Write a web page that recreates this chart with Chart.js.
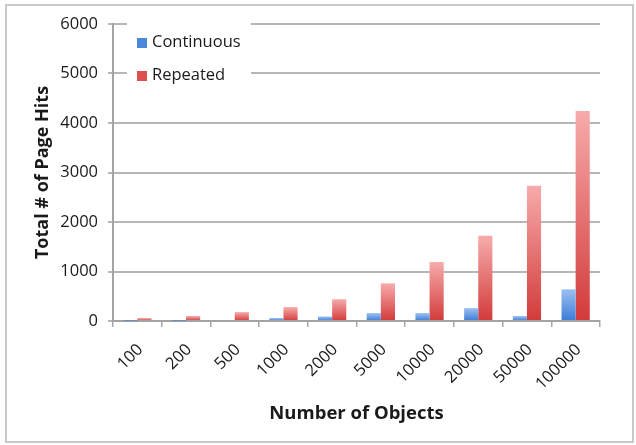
<!DOCTYPE html>
<html>
<head>
<meta charset="utf-8">
<script src="https://cdn.jsdelivr.net/npm/chart.js@4"></script>
<style>
  html, body { margin: 0; padding: 0; background: #fff; }
  #wrap { width: 636px; height: 445px; position: relative; }
</style>
</head>
<body>
<div id="wrap"><canvas id="c" width="636" height="445"></canvas></div>
<script>
// Number of objects per run
const categories = ['100', '200', '500', '1000', '2000', '5000', '10000', '20000', '50000', '100000'];
// Total page hits per access pattern
const continuous = [10, 10, 20, 60, 90, 160, 160, 260, 100, 640];
const repeated = [60, 100, 180, 280, 440, 760, 1190, 1720, 2730, 4240];
// Value axis ticks
const yTicks = [0, 1000, 2000, 3000, 4000, 5000, 6000];

const seriesNames = ['Continuous', 'Repeated'];
const seriesLight = ['#9cc0f2', '#f7abab'];
const seriesDark = ['#3b7bd6', '#d33a3a'];
const seriesKey = ['#4a88dc', '#de5050'];

const FONT = '"Open Sans", Lato, "Liberation Sans", sans-serif';
const TEXT = '#1a1a1a';

// Vertical light-to-dark shading for each bar, from its top down to the baseline
function barFill(i) {
  return (ctx) => {
    const chart = ctx.chart;
    if (!chart.chartArea || ctx.type !== 'data') return seriesDark[i];
    const y = chart.scales.y;
    const top = y.getPixelForValue(ctx.raw);
    const base = y.getPixelForValue(0);
    if (!isFinite(top) || base - top < 1) return seriesDark[i];
    const g = chart.ctx.createLinearGradient(0, top, 0, base);
    g.addColorStop(0, seriesLight[i]);
    g.addColorStop(1, seriesDark[i]);
    return g;
  };
}

// Frame around the whole figure
const framePlugin = {
  id: 'frame',
  beforeDraw(chart) {
    const c = chart.ctx;
    c.save();
    c.fillStyle = '#fff';
    c.fillRect(0, 0, chart.width, chart.height);
    c.strokeStyle = '#c9c9c9';
    c.lineWidth = 2;
    c.strokeRect(6, 5, 627, 437);
    c.restore();
  }
};

// Key placed in the upper-left corner of the plot
const insideLegend = {
  id: 'insideLegend',
  afterDraw(chart) {
    const c = chart.ctx;
    const area = chart.chartArea;
    const x0 = area.left + 14;
    c.save();
    c.fillStyle = '#fff';
    c.fillRect(x0, area.top - 10, 124, 86);
    c.font = '16.5px ' + FONT;
    c.textBaseline = 'middle';
    c.textAlign = 'left';
    chart.data.datasets.forEach((ds, i) => {
      const cy = area.top + 18 + i * 33;
      c.fillStyle = seriesKey[i];
      c.fillRect(x0 + 10, cy - 4, 10, 10);
      c.fillStyle = TEXT;
      c.fillText(ds.label, x0 + 25, cy);
    });
    c.restore();
  }
};

new Chart(document.getElementById('c'), {
  type: 'bar',
  data: {
    labels: categories,
    datasets: [
      { label: seriesNames[0], data: continuous, backgroundColor: barFill(0) },
      { label: seriesNames[1], data: repeated, backgroundColor: barFill(1) }
    ]
  },
  options: {
    responsive: false,
    devicePixelRatio: 1,
    animation: false,
    categoryPercentage: 0.58,
    barPercentage: 1.0,
    layout: { padding: { top: 24, right: 36, left: 0, bottom: 0 } },
    plugins: {
      legend: { display: false },
      tooltip: { enabled: false }
    },
    scales: {
      x: {
        grid: {
          display: true, drawOnChartArea: false, drawTicks: true,
          tickLength: 6, color: '#a8a8a8', lineWidth: 1.5, offset: true
        },
        border: { display: true, color: '#a3a3a3', width: 2 },
        ticks: {
          autoSkip: false, minRotation: 45, maxRotation: 45, padding: 13, labelOffset: 3,
          color: TEXT, font: { family: FONT, size: 16.5 }
        },
        title: {
          display: true, text: 'Number of Objects', color: TEXT,
          font: { family: FONT, size: 18.5, weight: 'bold' },
          padding: { top: 0, bottom: 20 }
        },
        afterFit(scale) { scale.height = 124; }
      },
      y: {
        min: 0, max: 6000,
        afterBuildTicks(scale) { scale.ticks = yTicks.map(v => ({ value: v })); },
        grid: { color: '#b6b6b6', lineWidth: 2, tickLength: 5, drawTicks: true },
        border: { display: true, color: '#a3a3a3', width: 2 },
        ticks: {
          padding: 10, color: TEXT, font: { family: FONT, size: 16.5 },
          callback: (v) => String(v)
        },
        title: {
          display: true, text: 'Total # of Page Hits', color: TEXT,
          font: { family: FONT, size: 18, weight: 'bold' },
          padding: { top: 32, bottom: 0 }
        },
        afterFit(scale) { scale.width = 113; }
      }
    }
  },
  plugins: [framePlugin, insideLegend]
});
</script>
</body>
</html>
